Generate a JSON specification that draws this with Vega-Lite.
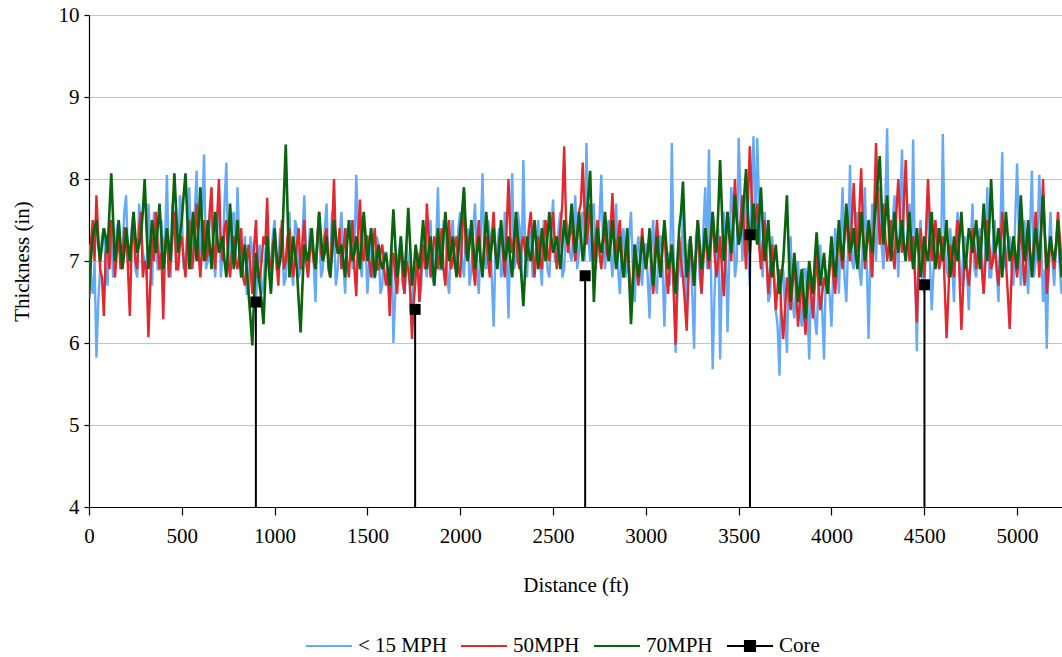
{
  "$schema": "https://vega.github.io/schema/vega-lite/v6.json",
  "width": 973,
  "height": 492,
  "autosize": {"type": "none"},
  "padding": {"left": 89, "top": 15, "right": 0, "bottom": 150},
  "background": "white",
  "config": {
    "font": "Liberation Serif",
    "view": {"stroke": null},
    "axis": {"labelColor": "black", "titleColor": "black", "titleFontWeight": "normal", "labelFontSize": 21, "titleFontSize": 21, "domainColor": "black", "tickColor": "black", "domainWidth": 1.2, "tickWidth": 1.2}
  },
  "datasets": {
    "b": [
{"d":0,"t":7.2},{"d":20,"t":6.6},{"d":40,"t":5.82},{"d":60,"t":6.9},{"d":80,"t":7.4},{"d":100,"t":6.7},{"d":120,"t":7.3},{"d":140,"t":6.9},{"d":160,"t":7.5},{"d":180,"t":7.0},
{"d":200,"t":7.8},{"d":220,"t":6.9},{"d":240,"t":7.6},{"d":260,"t":6.8},{"d":280,"t":7.4},{"d":300,"t":7.0},{"d":320,"t":7.7},{"d":340,"t":6.7},{"d":360,"t":7.3},{"d":380,"t":6.9},
{"d":400,"t":7.1},{"d":420,"t":8.05},{"d":440,"t":6.8},{"d":460,"t":7.5},{"d":480,"t":6.9},{"d":500,"t":7.6},{"d":520,"t":7.0},{"d":540,"t":7.9},{"d":560,"t":6.9},{"d":580,"t":8.1},
{"d":600,"t":7.2},{"d":620,"t":8.3},{"d":640,"t":7.0},{"d":660,"t":7.7},{"d":680,"t":6.8},{"d":700,"t":7.9},{"d":720,"t":7.1},{"d":740,"t":8.2},{"d":760,"t":6.9},{"d":780,"t":7.6},
{"d":800,"t":7.9},{"d":820,"t":6.8},{"d":840,"t":7.3},{"d":860,"t":6.6},{"d":880,"t":7.1},{"d":900,"t":6.5},{"d":920,"t":7.2},{"d":940,"t":6.7},{"d":960,"t":7.4},{"d":980,"t":6.9},
{"d":1000,"t":7.5},{"d":1020,"t":6.9},{"d":1040,"t":7.3},{"d":1060,"t":6.8},{"d":1080,"t":7.6},{"d":1100,"t":6.7},{"d":1120,"t":7.4},{"d":1140,"t":6.9},{"d":1160,"t":7.8},{"d":1180,"t":6.8},
{"d":1200,"t":7.2},{"d":1220,"t":6.5},{"d":1240,"t":7.5},{"d":1260,"t":6.9},{"d":1280,"t":7.7},{"d":1300,"t":7.0},{"d":1320,"t":7.4},{"d":1340,"t":6.9},{"d":1360,"t":7.6},{"d":1380,"t":6.6},
{"d":1400,"t":7.3},{"d":1420,"t":6.9},{"d":1440,"t":8.05},{"d":1460,"t":7.0},{"d":1480,"t":7.5},{"d":1500,"t":6.6},{"d":1520,"t":7.4},{"d":1540,"t":6.8},{"d":1560,"t":7.2},{"d":1580,"t":6.7},
{"d":1600,"t":7.1},{"d":1620,"t":6.5},{"d":1640,"t":6.0},{"d":1660,"t":7.0},{"d":1680,"t":7.3},{"d":1700,"t":6.6},{"d":1720,"t":7.0},{"d":1740,"t":6.2},{"d":1760,"t":6.8},{"d":1780,"t":6.5},
{"d":1800,"t":7.3},{"d":1820,"t":6.8},{"d":1840,"t":7.5},{"d":1860,"t":6.7},{"d":1880,"t":7.9},{"d":1900,"t":6.9},{"d":1920,"t":7.4},{"d":1940,"t":6.6},{"d":1960,"t":7.5},{"d":1980,"t":7.0},
{"d":2000,"t":7.6},{"d":2020,"t":6.8},{"d":2040,"t":7.4},{"d":2060,"t":6.9},{"d":2080,"t":7.7},{"d":2100,"t":6.6},{"d":2120,"t":8.07},{"d":2140,"t":6.9},{"d":2160,"t":7.3},{"d":2180,"t":6.2},
{"d":2200,"t":7.2},{"d":2220,"t":6.8},{"d":2240,"t":7.6},{"d":2260,"t":6.3},{"d":2280,"t":8.07},{"d":2300,"t":7.0},{"d":2320,"t":7.4},{"d":2340,"t":8.23},{"d":2360,"t":6.8},{"d":2380,"t":7.3},
{"d":2400,"t":6.9},{"d":2420,"t":7.5},{"d":2440,"t":6.7},{"d":2460,"t":7.3},{"d":2480,"t":6.8},{"d":2500,"t":7.75},{"d":2520,"t":7.0},{"d":2540,"t":7.6},{"d":2560,"t":6.9},{"d":2580,"t":7.4},
{"d":2600,"t":7.0},{"d":2620,"t":7.8},{"d":2640,"t":7.1},{"d":2660,"t":7.6},{"d":2680,"t":8.44},{"d":2700,"t":7.0},{"d":2720,"t":7.7},{"d":2740,"t":7.2},{"d":2760,"t":8.05},{"d":2780,"t":6.9},
{"d":2800,"t":7.5},{"d":2820,"t":6.8},{"d":2840,"t":7.7},{"d":2860,"t":6.6},{"d":2880,"t":7.4},{"d":2900,"t":6.9},{"d":2920,"t":7.6},{"d":2940,"t":6.5},{"d":2960,"t":7.3},{"d":2980,"t":6.7},
{"d":3000,"t":7.2},{"d":3020,"t":6.3},{"d":3040,"t":7.5},{"d":3060,"t":6.6},{"d":3080,"t":7.3},{"d":3100,"t":6.2},{"d":3120,"t":7.1},{"d":3140,"t":8.44},{"d":3160,"t":5.88},{"d":3180,"t":7.2},
{"d":3200,"t":7.6},{"d":3220,"t":6.4},{"d":3240,"t":7.3},{"d":3260,"t":5.93},{"d":3280,"t":7.5},{"d":3300,"t":6.6},{"d":3320,"t":7.9},{"d":3340,"t":8.36},{"d":3360,"t":5.68},{"d":3380,"t":7.1},
{"d":3400,"t":5.8},{"d":3420,"t":7.6},{"d":3440,"t":6.13},{"d":3460,"t":7.9},{"d":3480,"t":6.8},{"d":3500,"t":8.5},{"d":3520,"t":7.0},{"d":3540,"t":7.8},{"d":3560,"t":6.7},{"d":3580,"t":8.52},
{"d":3600,"t":8.5},{"d":3620,"t":7.0},{"d":3640,"t":7.6},{"d":3660,"t":6.5},{"d":3680,"t":7.3},{"d":3700,"t":6.4},{"d":3720,"t":5.6},{"d":3740,"t":6.9},{"d":3760,"t":5.88},{"d":3780,"t":7.3},
{"d":3800,"t":6.3},{"d":3820,"t":7.0},{"d":3840,"t":6.2},{"d":3860,"t":6.9},{"d":3880,"t":5.8},{"d":3900,"t":6.7},{"d":3920,"t":6.1},{"d":3940,"t":7.2},{"d":3960,"t":5.8},{"d":3980,"t":6.8},
{"d":4000,"t":6.2},{"d":4020,"t":7.4},{"d":4040,"t":6.6},{"d":4060,"t":7.9},{"d":4080,"t":6.5},{"d":4100,"t":8.17},{"d":4120,"t":6.9},{"d":4140,"t":7.6},{"d":4160,"t":6.7},{"d":4180,"t":7.9},
{"d":4200,"t":6.05},{"d":4220,"t":7.7},{"d":4240,"t":7.0},{"d":4260,"t":7.9},{"d":4280,"t":6.9},{"d":4300,"t":8.62},{"d":4320,"t":7.2},{"d":4340,"t":7.8},{"d":4360,"t":6.8},{"d":4380,"t":8.36},
{"d":4400,"t":7.0},{"d":4420,"t":7.7},{"d":4440,"t":8.48},{"d":4460,"t":5.9},{"d":4480,"t":7.5},{"d":4500,"t":6.6},{"d":4520,"t":7.8},{"d":4540,"t":6.4},{"d":4560,"t":7.2},{"d":4580,"t":6.9},
{"d":4600,"t":8.55},{"d":4620,"t":6.9},{"d":4640,"t":7.4},{"d":4660,"t":6.5},{"d":4680,"t":7.6},{"d":4700,"t":6.7},{"d":4720,"t":7.3},{"d":4740,"t":6.4},{"d":4760,"t":7.7},{"d":4780,"t":6.8},
{"d":4800,"t":7.4},{"d":4820,"t":6.6},{"d":4840,"t":7.9},{"d":4860,"t":6.8},{"d":4880,"t":7.5},{"d":4900,"t":6.5},{"d":4920,"t":8.33},{"d":4940,"t":6.9},{"d":4960,"t":7.3},{"d":4980,"t":6.7},
{"d":5000,"t":8.19},{"d":5020,"t":6.7},{"d":5040,"t":7.5},{"d":5060,"t":6.6},{"d":5080,"t":8.1},{"d":5100,"t":7.0},{"d":5120,"t":8.05},{"d":5140,"t":6.5},{"d":5160,"t":5.93},{"d":5180,"t":7.6},
{"d":5200,"t":6.7},{"d":5220,"t":7.4},{"d":5240,"t":6.6},
{"d":10,"t":6.8},{"d":30,"t":7.0},{"d":50,"t":6.5},{"d":70,"t":7.3},{"d":90,"t":6.9},{"d":110,"t":7.5},{"d":130,"t":6.8},{"d":150,"t":7.4},{"d":170,"t":7.0},{"d":190,"t":7.6},
{"d":210,"t":7.0},{"d":230,"t":7.4},{"d":250,"t":6.9},{"d":270,"t":7.7},{"d":290,"t":7.1},{"d":310,"t":6.8},{"d":330,"t":7.3},{"d":350,"t":7.6},{"d":370,"t":6.9},{"d":390,"t":7.5},
{"d":410,"t":7.3},{"d":430,"t":6.9},{"d":450,"t":7.7},{"d":470,"t":7.0},{"d":490,"t":7.8},{"d":510,"t":6.9},{"d":530,"t":7.4},{"d":550,"t":7.1},{"d":570,"t":7.6},{"d":590,"t":7.0},
{"d":610,"t":7.6},{"d":630,"t":6.9},{"d":650,"t":7.5},{"d":670,"t":7.1},{"d":690,"t":7.4},{"d":710,"t":6.8},{"d":730,"t":7.7},{"d":750,"t":7.0},{"d":770,"t":7.5},{"d":790,"t":7.0},
{"d":810,"t":7.2},{"d":830,"t":7.0},{"d":850,"t":6.6},{"d":870,"t":7.3},{"d":890,"t":6.7},{"d":910,"t":7.0},{"d":930,"t":6.6},{"d":950,"t":7.1},{"d":970,"t":6.8},{"d":990,"t":7.3},
{"d":1010,"t":6.9},{"d":1030,"t":7.4},{"d":1050,"t":6.7},{"d":1070,"t":7.2},{"d":1090,"t":6.9},{"d":1110,"t":7.5},{"d":1130,"t":6.8},{"d":1150,"t":7.3},{"d":1170,"t":7.0},{"d":1190,"t":7.4},
{"d":1210,"t":7.0},{"d":1230,"t":7.3},{"d":1250,"t":6.8},{"d":1270,"t":7.4},{"d":1290,"t":6.9},{"d":1310,"t":7.6},{"d":1330,"t":6.7},{"d":1350,"t":7.3},{"d":1370,"t":7.0},{"d":1390,"t":7.4},
{"d":1410,"t":7.5},{"d":1430,"t":7.1},{"d":1450,"t":7.3},{"d":1470,"t":6.8},{"d":1490,"t":7.2},{"d":1510,"t":7.0},{"d":1530,"t":6.8},{"d":1550,"t":7.3},{"d":1570,"t":6.6},{"d":1590,"t":7.1},
{"d":1610,"t":6.8},{"d":1630,"t":7.2},{"d":1650,"t":6.6},{"d":1670,"t":7.1},{"d":1690,"t":6.7},{"d":1710,"t":7.2},{"d":1730,"t":6.6},{"d":1750,"t":6.9},{"d":1770,"t":7.0},{"d":1790,"t":6.7},
{"d":1810,"t":7.0},{"d":1830,"t":7.3},{"d":1850,"t":6.8},{"d":1870,"t":7.2},{"d":1890,"t":6.9},{"d":1910,"t":7.5},{"d":1930,"t":6.8},{"d":1950,"t":7.3},{"d":1970,"t":6.9},{"d":1990,"t":7.4},
{"d":2010,"t":7.0},{"d":2030,"t":7.3},{"d":2050,"t":6.7},{"d":2070,"t":7.4},{"d":2090,"t":6.9},{"d":2110,"t":7.3},{"d":2130,"t":7.0},{"d":2150,"t":7.5},{"d":2170,"t":6.8},{"d":2190,"t":7.1},
{"d":2210,"t":7.4},{"d":2230,"t":6.9},{"d":2250,"t":7.1},{"d":2270,"t":7.4},{"d":2290,"t":6.9},{"d":2310,"t":7.6},{"d":2330,"t":6.8},{"d":2350,"t":7.1},{"d":2370,"t":7.4},{"d":2390,"t":6.8},
{"d":2410,"t":7.2},{"d":2430,"t":7.0},{"d":2450,"t":7.5},{"d":2470,"t":6.9},{"d":2490,"t":7.3},{"d":2510,"t":7.0},{"d":2530,"t":7.4},{"d":2550,"t":6.8},{"d":2570,"t":7.5},{"d":2590,"t":7.1},
{"d":2610,"t":7.4},{"d":2630,"t":6.9},{"d":2650,"t":7.5},{"d":2670,"t":7.0},{"d":2690,"t":7.3},{"d":2710,"t":7.6},{"d":2730,"t":6.9},{"d":2750,"t":7.5},{"d":2770,"t":7.2},{"d":2790,"t":7.3},
{"d":2810,"t":7.1},{"d":2830,"t":7.3},{"d":2850,"t":6.9},{"d":2870,"t":7.2},{"d":2890,"t":6.8},{"d":2910,"t":7.3},{"d":2930,"t":6.9},{"d":2950,"t":7.1},{"d":2970,"t":6.9},{"d":2990,"t":7.2},
{"d":3010,"t":6.8},{"d":3030,"t":7.2},{"d":3050,"t":6.7},{"d":3070,"t":7.3},{"d":3090,"t":6.9},{"d":3110,"t":7.0},{"d":3130,"t":6.7},{"d":3150,"t":7.0},{"d":3170,"t":6.6},{"d":3190,"t":6.8},
{"d":3210,"t":6.9},{"d":3230,"t":7.2},{"d":3250,"t":6.6},{"d":3270,"t":7.3},{"d":3290,"t":6.8},{"d":3310,"t":7.4},{"d":3330,"t":6.9},{"d":3350,"t":7.0},{"d":3370,"t":6.6},{"d":3390,"t":7.4},
{"d":3410,"t":6.9},{"d":3430,"t":7.3},{"d":3450,"t":7.1},{"d":3470,"t":7.6},{"d":3490,"t":7.0},{"d":3510,"t":7.8},{"d":3530,"t":7.4},{"d":3550,"t":7.2},{"d":3570,"t":7.9},{"d":3590,"t":7.3},
{"d":3610,"t":7.7},{"d":3630,"t":6.8},{"d":3650,"t":7.2},{"d":3670,"t":6.6},{"d":3690,"t":6.9},{"d":3710,"t":6.2},{"d":3730,"t":6.8},{"d":3750,"t":6.4},{"d":3770,"t":6.9},{"d":3790,"t":6.5},
{"d":3810,"t":6.7},{"d":3830,"t":6.4},{"d":3850,"t":6.9},{"d":3870,"t":6.5},{"d":3890,"t":6.8},{"d":3910,"t":6.3},{"d":3930,"t":6.7},{"d":3950,"t":6.4},{"d":3970,"t":6.9},{"d":3990,"t":6.6},
{"d":4010,"t":6.9},{"d":4030,"t":7.1},{"d":4050,"t":7.3},{"d":4070,"t":6.8},{"d":4090,"t":7.2},{"d":4110,"t":7.0},{"d":4130,"t":7.4},{"d":4150,"t":6.9},{"d":4170,"t":7.3},{"d":4190,"t":7.0},
{"d":4210,"t":7.1},{"d":4230,"t":7.4},{"d":4250,"t":7.6},{"d":4270,"t":7.2},{"d":4290,"t":7.7},{"d":4310,"t":7.1},{"d":4330,"t":7.5},{"d":4350,"t":7.3},{"d":4370,"t":7.6},{"d":4390,"t":7.2},
{"d":4410,"t":7.3},{"d":4430,"t":7.0},{"d":4450,"t":6.9},{"d":4470,"t":7.2},{"d":4490,"t":6.8},{"d":4510,"t":7.3},{"d":4530,"t":7.0},{"d":4550,"t":6.9},{"d":4570,"t":7.4},{"d":4590,"t":7.0},
{"d":4610,"t":7.2},{"d":4630,"t":6.8},{"d":4650,"t":7.0},{"d":4670,"t":7.3},{"d":4690,"t":6.9},{"d":4710,"t":7.1},{"d":4730,"t":6.9},{"d":4750,"t":7.2},{"d":4770,"t":6.9},{"d":4790,"t":7.3},
{"d":4810,"t":7.0},{"d":4830,"t":7.3},{"d":4850,"t":6.8},{"d":4870,"t":7.2},{"d":4890,"t":6.9},{"d":4910,"t":7.4},{"d":4930,"t":7.0},{"d":4950,"t":7.2},{"d":4970,"t":6.9},{"d":4990,"t":7.5},
{"d":5010,"t":7.3},{"d":5030,"t":7.0},{"d":5050,"t":6.9},{"d":5070,"t":7.4},{"d":5090,"t":6.8},{"d":5110,"t":7.3},{"d":5130,"t":7.2},{"d":5150,"t":6.9},{"d":5170,"t":7.1},{"d":5190,"t":7.0},
{"d":5210,"t":7.2},{"d":5230,"t":6.9}
    ],
    "r": [
{"d":0,"t":6.55},{"d":20,"t":7.5},{"d":40,"t":7.8},{"d":60,"t":6.9},{"d":80,"t":6.33},{"d":100,"t":7.2},{"d":120,"t":7.5},{"d":140,"t":6.8},{"d":160,"t":7.3},{"d":180,"t":7.0},
{"d":200,"t":7.4},{"d":220,"t":6.33},{"d":240,"t":7.5},{"d":260,"t":6.9},{"d":280,"t":7.6},{"d":300,"t":7.0},{"d":320,"t":6.07},{"d":340,"t":7.3},{"d":360,"t":7.6},{"d":380,"t":6.9},
{"d":400,"t":6.29},{"d":420,"t":7.4},{"d":440,"t":7.0},{"d":460,"t":7.6},{"d":480,"t":6.9},{"d":500,"t":7.3},{"d":520,"t":6.8},{"d":540,"t":7.5},{"d":560,"t":7.0},{"d":580,"t":7.7},
{"d":600,"t":6.8},{"d":620,"t":7.5},{"d":640,"t":7.1},{"d":660,"t":7.9},{"d":680,"t":6.9},{"d":700,"t":8.0},{"d":720,"t":7.0},{"d":740,"t":7.5},{"d":760,"t":6.8},{"d":780,"t":7.3},
{"d":800,"t":6.9},{"d":820,"t":7.4},{"d":840,"t":6.7},{"d":860,"t":7.2},{"d":880,"t":6.6},{"d":900,"t":7.5},{"d":920,"t":6.8},{"d":940,"t":7.3},{"d":960,"t":7.77},{"d":980,"t":6.9},
{"d":1000,"t":7.3},{"d":1020,"t":6.7},{"d":1040,"t":7.5},{"d":1060,"t":7.0},{"d":1080,"t":7.4},{"d":1100,"t":6.8},{"d":1120,"t":7.2},{"d":1140,"t":6.9},{"d":1160,"t":7.5},{"d":1180,"t":6.8},
{"d":1200,"t":7.3},{"d":1220,"t":6.9},{"d":1240,"t":7.6},{"d":1260,"t":7.0},{"d":1280,"t":7.4},{"d":1300,"t":6.8},{"d":1320,"t":8.0},{"d":1340,"t":7.1},{"d":1360,"t":6.9},{"d":1380,"t":7.4},
{"d":1400,"t":6.8},{"d":1420,"t":7.5},{"d":1440,"t":6.57},{"d":1460,"t":7.75},{"d":1480,"t":7.0},{"d":1500,"t":7.3},{"d":1520,"t":6.8},{"d":1540,"t":7.4},{"d":1560,"t":6.9},{"d":1580,"t":7.2},
{"d":1600,"t":6.7},{"d":1620,"t":6.33},{"d":1640,"t":7.1},{"d":1660,"t":6.6},{"d":1680,"t":7.2},{"d":1700,"t":6.6},{"d":1720,"t":6.9},{"d":1740,"t":6.05},{"d":1760,"t":6.8},{"d":1780,"t":6.5},
{"d":1800,"t":7.2},{"d":1820,"t":7.7},{"d":1840,"t":6.8},{"d":1860,"t":7.3},{"d":1880,"t":6.9},{"d":1900,"t":7.4},{"d":1920,"t":6.7},{"d":1940,"t":7.5},{"d":1960,"t":7.0},{"d":1980,"t":7.3},
{"d":2000,"t":6.8},{"d":2020,"t":7.85},{"d":2040,"t":7.0},{"d":2060,"t":7.4},{"d":2080,"t":6.7},{"d":2100,"t":7.5},{"d":2120,"t":6.9},{"d":2140,"t":7.3},{"d":2160,"t":6.8},{"d":2180,"t":7.6},
{"d":2200,"t":7.0},{"d":2220,"t":7.4},{"d":2240,"t":6.8},{"d":2260,"t":8.0},{"d":2280,"t":7.1},{"d":2300,"t":7.5},{"d":2320,"t":6.9},{"d":2340,"t":7.3},{"d":2360,"t":7.0},{"d":2380,"t":7.6},
{"d":2400,"t":6.8},{"d":2420,"t":7.3},{"d":2440,"t":6.9},{"d":2460,"t":7.5},{"d":2480,"t":7.0},{"d":2500,"t":7.6},{"d":2520,"t":6.9},{"d":2540,"t":7.4},{"d":2560,"t":8.4},{"d":2580,"t":7.1},
{"d":2600,"t":7.5},{"d":2620,"t":7.0},{"d":2640,"t":7.6},{"d":2660,"t":8.2},{"d":2680,"t":7.2},{"d":2700,"t":7.7},{"d":2720,"t":7.0},{"d":2740,"t":7.5},{"d":2760,"t":6.9},{"d":2780,"t":7.4},
{"d":2800,"t":7.0},{"d":2820,"t":7.83},{"d":2840,"t":7.1},{"d":2860,"t":7.5},{"d":2880,"t":6.8},{"d":2900,"t":7.3},{"d":2920,"t":6.43},{"d":2940,"t":7.2},{"d":2960,"t":6.7},{"d":2980,"t":7.4},
{"d":3000,"t":6.9},{"d":3020,"t":7.3},{"d":3040,"t":6.6},{"d":3060,"t":7.5},{"d":3080,"t":6.8},{"d":3100,"t":7.4},{"d":3120,"t":6.6},{"d":3140,"t":7.2},{"d":3160,"t":5.98},{"d":3180,"t":7.3},
{"d":3200,"t":6.8},{"d":3220,"t":6.15},{"d":3240,"t":7.3},{"d":3260,"t":6.7},{"d":3280,"t":7.5},{"d":3300,"t":6.6},{"d":3320,"t":7.4},{"d":3340,"t":6.9},{"d":3360,"t":7.6},{"d":3380,"t":6.8},
{"d":3400,"t":7.3},{"d":3420,"t":6.57},{"d":3440,"t":7.6},{"d":3460,"t":7.0},{"d":3480,"t":8.0},{"d":3500,"t":7.2},{"d":3520,"t":7.8},{"d":3540,"t":6.9},{"d":3560,"t":8.4},{"d":3580,"t":7.3},
{"d":3600,"t":7.7},{"d":3620,"t":6.9},{"d":3640,"t":7.5},{"d":3660,"t":6.6},{"d":3680,"t":7.2},{"d":3700,"t":6.4},{"d":3720,"t":6.9},{"d":3740,"t":6.05},{"d":3760,"t":6.8},{"d":3780,"t":6.4},
{"d":3800,"t":7.0},{"d":3820,"t":6.2},{"d":3840,"t":6.8},{"d":3860,"t":6.1},{"d":3880,"t":6.9},{"d":3900,"t":6.3},{"d":3920,"t":7.1},{"d":3940,"t":6.4},{"d":3960,"t":6.8},{"d":3980,"t":6.6},
{"d":4000,"t":7.1},{"d":4020,"t":6.6},{"d":4040,"t":7.4},{"d":4060,"t":6.9},{"d":4080,"t":7.6},{"d":4100,"t":7.0},{"d":4120,"t":7.95},{"d":4140,"t":7.1},{"d":4160,"t":8.13},{"d":4180,"t":6.9},
{"d":4200,"t":7.4},{"d":4220,"t":6.8},{"d":4240,"t":8.44},{"d":4260,"t":7.2},{"d":4280,"t":7.7},{"d":4300,"t":7.0},{"d":4320,"t":7.5},{"d":4340,"t":6.9},{"d":4360,"t":8.0},{"d":4380,"t":7.1},
{"d":4400,"t":8.23},{"d":4420,"t":7.0},{"d":4440,"t":7.3},{"d":4460,"t":6.25},{"d":4480,"t":7.4},{"d":4500,"t":6.8},{"d":4520,"t":8.0},{"d":4540,"t":7.0},{"d":4560,"t":7.5},{"d":4580,"t":6.9},
{"d":4600,"t":7.3},{"d":4620,"t":6.06},{"d":4640,"t":7.2},{"d":4660,"t":6.8},{"d":4680,"t":7.5},{"d":4700,"t":6.16},{"d":4720,"t":7.1},{"d":4740,"t":6.7},{"d":4760,"t":7.4},{"d":4780,"t":6.9},
{"d":4800,"t":7.3},{"d":4820,"t":6.6},{"d":4840,"t":7.5},{"d":4860,"t":6.9},{"d":4880,"t":7.2},{"d":4900,"t":6.7},{"d":4920,"t":7.6},{"d":4940,"t":7.0},{"d":4960,"t":6.17},{"d":4980,"t":7.3},
{"d":5000,"t":6.8},{"d":5020,"t":7.5},{"d":5040,"t":6.7},{"d":5060,"t":7.3},{"d":5080,"t":6.9},{"d":5100,"t":7.6},{"d":5120,"t":6.8},{"d":5140,"t":8.0},{"d":5160,"t":6.6},{"d":5180,"t":7.3},
{"d":5200,"t":6.9},{"d":5220,"t":7.6},{"d":5240,"t":7.0},
{"d":10,"t":7.2},{"d":30,"t":7.0},{"d":50,"t":7.3},{"d":70,"t":6.8},{"d":90,"t":7.1},{"d":110,"t":6.9},{"d":130,"t":7.4},{"d":150,"t":7.1},{"d":170,"t":6.9},{"d":190,"t":7.4},
{"d":210,"t":6.9},{"d":230,"t":7.2},{"d":250,"t":7.0},{"d":270,"t":7.4},{"d":290,"t":6.8},{"d":310,"t":6.9},{"d":330,"t":6.7},{"d":350,"t":7.0},{"d":370,"t":7.2},{"d":390,"t":7.1},
{"d":410,"t":7.2},{"d":430,"t":6.8},{"d":450,"t":7.3},{"d":470,"t":6.9},{"d":490,"t":7.2},{"d":510,"t":7.0},{"d":530,"t":7.3},{"d":550,"t":6.9},{"d":570,"t":7.4},{"d":590,"t":7.1},
{"d":610,"t":7.2},{"d":630,"t":7.0},{"d":650,"t":7.6},{"d":670,"t":7.2},{"d":690,"t":7.5},{"d":710,"t":7.2},{"d":730,"t":7.4},{"d":750,"t":7.0},{"d":770,"t":7.1},{"d":790,"t":7.0},
{"d":810,"t":7.1},{"d":830,"t":6.8},{"d":850,"t":7.0},{"d":870,"t":6.9},{"d":890,"t":7.2},{"d":910,"t":6.8},{"d":930,"t":7.0},{"d":950,"t":7.2},{"d":970,"t":7.0},{"d":990,"t":7.2},
{"d":1010,"t":7.0},{"d":1030,"t":7.2},{"d":1050,"t":6.9},{"d":1070,"t":7.3},{"d":1090,"t":7.1},{"d":1110,"t":7.0},{"d":1130,"t":7.4},{"d":1150,"t":7.2},{"d":1170,"t":7.0},{"d":1190,"t":7.1},
{"d":1210,"t":7.0},{"d":1230,"t":7.3},{"d":1250,"t":7.1},{"d":1270,"t":7.3},{"d":1290,"t":6.9},{"d":1310,"t":7.4},{"d":1330,"t":7.2},{"d":1350,"t":7.4},{"d":1370,"t":7.1},{"d":1390,"t":7.0},
{"d":1410,"t":7.2},{"d":1430,"t":6.9},{"d":1450,"t":7.3},{"d":1470,"t":7.1},{"d":1490,"t":7.3},{"d":1510,"t":7.0},{"d":1530,"t":7.2},{"d":1550,"t":6.9},{"d":1570,"t":7.1},{"d":1590,"t":6.9},
{"d":1610,"t":6.9},{"d":1630,"t":7.0},{"d":1650,"t":6.8},{"d":1670,"t":7.0},{"d":1690,"t":6.8},{"d":1710,"t":7.0},{"d":1730,"t":6.7},{"d":1750,"t":6.5},{"d":1770,"t":7.1},{"d":1790,"t":6.9},
{"d":1810,"t":6.9},{"d":1830,"t":7.3},{"d":1850,"t":7.0},{"d":1870,"t":7.2},{"d":1890,"t":7.1},{"d":1910,"t":6.9},{"d":1930,"t":7.2},{"d":1950,"t":6.9},{"d":1970,"t":7.2},{"d":1990,"t":6.9},
{"d":2010,"t":7.3},{"d":2030,"t":7.1},{"d":2050,"t":7.3},{"d":2070,"t":6.9},{"d":2090,"t":7.2},{"d":2110,"t":7.0},{"d":2130,"t":7.2},{"d":2150,"t":7.0},{"d":2170,"t":7.3},{"d":2190,"t":7.1},
{"d":2210,"t":7.2},{"d":2230,"t":7.1},{"d":2250,"t":7.4},{"d":2270,"t":7.3},{"d":2290,"t":7.3},{"d":2310,"t":7.0},{"d":2330,"t":7.2},{"d":2350,"t":7.1},{"d":2370,"t":7.4},{"d":2390,"t":7.2},
{"d":2410,"t":7.1},{"d":2430,"t":7.0},{"d":2450,"t":7.3},{"d":2470,"t":7.1},{"d":2490,"t":7.4},{"d":2510,"t":7.2},{"d":2530,"t":7.1},{"d":2550,"t":7.7},{"d":2570,"t":7.5},{"d":2590,"t":7.3},
{"d":2610,"t":7.2},{"d":2630,"t":7.3},{"d":2650,"t":7.7},{"d":2670,"t":7.6},{"d":2690,"t":7.4},{"d":2710,"t":7.3},{"d":2730,"t":7.3},{"d":2750,"t":7.1},{"d":2770,"t":7.2},{"d":2790,"t":7.1},
{"d":2810,"t":7.4},{"d":2830,"t":7.3},{"d":2850,"t":7.3},{"d":2870,"t":7.1},{"d":2890,"t":7.0},{"d":2910,"t":6.9},{"d":2930,"t":6.8},{"d":2950,"t":6.9},{"d":2970,"t":7.0},{"d":2990,"t":7.1},
{"d":3010,"t":7.1},{"d":3030,"t":6.9},{"d":3050,"t":7.1},{"d":3070,"t":7.1},{"d":3090,"t":7.2},{"d":3110,"t":6.9},{"d":3130,"t":7.0},{"d":3150,"t":6.6},{"d":3170,"t":6.8},{"d":3190,"t":7.0},
{"d":3210,"t":6.5},{"d":3230,"t":6.8},{"d":3250,"t":7.0},{"d":3270,"t":7.1},{"d":3290,"t":7.0},{"d":3310,"t":7.0},{"d":3330,"t":7.1},{"d":3350,"t":7.2},{"d":3370,"t":7.1},{"d":3390,"t":7.0},
{"d":3410,"t":6.9},{"d":3430,"t":7.1},{"d":3450,"t":7.3},{"d":3470,"t":7.5},{"d":3490,"t":7.5},{"d":3510,"t":7.5},{"d":3530,"t":7.3},{"d":3550,"t":7.7},{"d":3570,"t":7.8},{"d":3590,"t":7.5},
{"d":3610,"t":7.2},{"d":3630,"t":7.2},{"d":3650,"t":7.0},{"d":3670,"t":6.9},{"d":3690,"t":6.8},{"d":3710,"t":6.7},{"d":3730,"t":6.4},{"d":3750,"t":6.4},{"d":3770,"t":6.6},{"d":3790,"t":6.7},
{"d":3810,"t":6.6},{"d":3830,"t":6.5},{"d":3850,"t":6.4},{"d":3870,"t":6.5},{"d":3890,"t":6.6},{"d":3910,"t":6.7},{"d":3930,"t":6.7},{"d":3950,"t":6.6},{"d":3970,"t":6.7},{"d":3990,"t":6.9},
{"d":4010,"t":6.8},{"d":4030,"t":7.0},{"d":4050,"t":7.1},{"d":4070,"t":7.3},{"d":4090,"t":7.2},{"d":4110,"t":7.5},{"d":4130,"t":7.4},{"d":4150,"t":7.6},{"d":4170,"t":7.4},{"d":4190,"t":7.2},
{"d":4210,"t":7.1},{"d":4230,"t":7.6},{"d":4250,"t":7.8},{"d":4270,"t":7.4},{"d":4290,"t":7.3},{"d":4310,"t":7.2},{"d":4330,"t":7.1},{"d":4350,"t":7.6},{"d":4370,"t":7.5},{"d":4390,"t":7.7},
{"d":4410,"t":7.5},{"d":4430,"t":7.1},{"d":4450,"t":6.8},{"d":4470,"t":6.9},{"d":4490,"t":7.1},{"d":4510,"t":7.4},{"d":4530,"t":7.5},{"d":4550,"t":7.2},{"d":4570,"t":7.2},{"d":4590,"t":7.1},
{"d":4610,"t":6.7},{"d":4630,"t":6.6},{"d":4650,"t":7.0},{"d":4670,"t":7.2},{"d":4690,"t":6.8},{"d":4710,"t":6.7},{"d":4730,"t":6.9},{"d":4750,"t":7.0},{"d":4770,"t":7.2},{"d":4790,"t":7.1},
{"d":4810,"t":6.9},{"d":4830,"t":7.0},{"d":4850,"t":7.2},{"d":4870,"t":7.0},{"d":4890,"t":6.9},{"d":4910,"t":7.1},{"d":4930,"t":7.3},{"d":4950,"t":6.6},{"d":4970,"t":6.8},{"d":4990,"t":7.0},
{"d":5010,"t":7.1},{"d":5030,"t":7.1},{"d":5050,"t":7.0},{"d":5070,"t":7.1},{"d":5090,"t":7.2},{"d":5110,"t":7.2},{"d":5130,"t":7.4},{"d":5150,"t":7.3},{"d":5170,"t":6.9},{"d":5190,"t":7.1},
{"d":5210,"t":7.2},{"d":5230,"t":7.3}
    ],
    "g": [
{"d":0,"t":6.55},{"d":20,"t":7.3},{"d":40,"t":7.5},{"d":60,"t":7.0},{"d":80,"t":7.4},{"d":100,"t":7.1},{"d":120,"t":8.07},{"d":140,"t":7.0},{"d":160,"t":7.5},{"d":180,"t":6.9},
{"d":200,"t":7.4},{"d":220,"t":7.0},{"d":240,"t":7.6},{"d":260,"t":7.1},{"d":280,"t":7.3},{"d":300,"t":8.0},{"d":320,"t":6.9},{"d":340,"t":7.5},{"d":360,"t":7.1},{"d":380,"t":7.7},
{"d":400,"t":6.9},{"d":420,"t":7.4},{"d":440,"t":7.0},{"d":460,"t":8.07},{"d":480,"t":7.1},{"d":500,"t":7.5},{"d":520,"t":8.07},{"d":540,"t":6.9},{"d":560,"t":7.6},{"d":580,"t":7.0},
{"d":600,"t":7.9},{"d":620,"t":7.0},{"d":640,"t":7.5},{"d":660,"t":6.9},{"d":680,"t":7.6},{"d":700,"t":7.1},{"d":720,"t":7.3},{"d":740,"t":6.8},{"d":760,"t":7.7},{"d":780,"t":6.9},
{"d":800,"t":7.5},{"d":820,"t":6.8},{"d":840,"t":7.2},{"d":860,"t":6.6},{"d":880,"t":5.97},{"d":900,"t":7.1},{"d":920,"t":6.7},{"d":940,"t":6.23},{"d":960,"t":7.3},{"d":980,"t":6.6},
{"d":1000,"t":7.4},{"d":1020,"t":6.9},{"d":1040,"t":7.2},{"d":1060,"t":8.42},{"d":1080,"t":6.8},{"d":1100,"t":7.3},{"d":1120,"t":6.9},{"d":1140,"t":6.13},{"d":1160,"t":7.2},{"d":1180,"t":7.0},
{"d":1200,"t":7.4},{"d":1220,"t":6.9},{"d":1240,"t":7.6},{"d":1260,"t":7.0},{"d":1280,"t":7.3},{"d":1300,"t":6.8},{"d":1320,"t":7.5},{"d":1340,"t":7.1},{"d":1360,"t":7.2},{"d":1380,"t":6.8},
{"d":1400,"t":7.5},{"d":1420,"t":7.0},{"d":1440,"t":7.3},{"d":1460,"t":6.9},{"d":1480,"t":7.6},{"d":1500,"t":7.0},{"d":1520,"t":7.4},{"d":1540,"t":6.8},{"d":1560,"t":7.2},{"d":1580,"t":6.9},
{"d":1600,"t":7.1},{"d":1620,"t":6.7},{"d":1640,"t":7.63},{"d":1660,"t":6.8},{"d":1680,"t":7.3},{"d":1700,"t":6.8},{"d":1720,"t":7.65},{"d":1740,"t":6.7},{"d":1760,"t":7.2},{"d":1780,"t":6.9},
{"d":1800,"t":7.5},{"d":1820,"t":6.9},{"d":1840,"t":7.3},{"d":1860,"t":6.7},{"d":1880,"t":7.4},{"d":1900,"t":6.9},{"d":1920,"t":7.6},{"d":1940,"t":7.0},{"d":1960,"t":7.3},{"d":1980,"t":6.8},
{"d":2000,"t":7.4},{"d":2020,"t":7.9},{"d":2040,"t":7.0},{"d":2060,"t":7.5},{"d":2080,"t":6.9},{"d":2100,"t":7.3},{"d":2120,"t":6.8},{"d":2140,"t":7.6},{"d":2160,"t":7.0},{"d":2180,"t":7.4},
{"d":2200,"t":6.9},{"d":2220,"t":7.5},{"d":2240,"t":7.0},{"d":2260,"t":7.3},{"d":2280,"t":6.8},{"d":2300,"t":7.6},{"d":2320,"t":7.1},{"d":2340,"t":6.45},{"d":2360,"t":7.3},{"d":2380,"t":7.0},
{"d":2400,"t":7.5},{"d":2420,"t":6.9},{"d":2440,"t":7.4},{"d":2460,"t":7.0},{"d":2480,"t":7.6},{"d":2500,"t":7.1},{"d":2520,"t":7.3},{"d":2540,"t":6.9},{"d":2560,"t":7.5},{"d":2580,"t":7.2},
{"d":2600,"t":7.7},{"d":2620,"t":7.1},{"d":2640,"t":7.6},{"d":2660,"t":7.0},{"d":2680,"t":7.5},{"d":2700,"t":8.1},{"d":2720,"t":6.5},{"d":2740,"t":7.4},{"d":2760,"t":7.1},{"d":2780,"t":7.6},
{"d":2800,"t":7.0},{"d":2820,"t":7.5},{"d":2840,"t":6.9},{"d":2860,"t":7.3},{"d":2880,"t":6.8},{"d":2900,"t":7.4},{"d":2920,"t":6.23},{"d":2940,"t":7.2},{"d":2960,"t":6.8},{"d":2980,"t":7.3},
{"d":3000,"t":6.9},{"d":3020,"t":7.4},{"d":3040,"t":6.7},{"d":3060,"t":7.3},{"d":3080,"t":6.8},{"d":3100,"t":7.5},{"d":3120,"t":6.9},{"d":3140,"t":7.2},{"d":3160,"t":6.6},{"d":3180,"t":7.4},
{"d":3200,"t":7.97},{"d":3220,"t":6.8},{"d":3240,"t":7.3},{"d":3260,"t":6.7},{"d":3280,"t":7.5},{"d":3300,"t":6.9},{"d":3320,"t":7.4},{"d":3340,"t":7.0},{"d":3360,"t":7.6},{"d":3380,"t":7.1},
{"d":3400,"t":8.23},{"d":3420,"t":7.0},{"d":3440,"t":7.6},{"d":3460,"t":7.1},{"d":3480,"t":7.8},{"d":3500,"t":7.2},{"d":3520,"t":7.5},{"d":3540,"t":8.12},{"d":3560,"t":7.1},{"d":3580,"t":7.7},
{"d":3600,"t":7.2},{"d":3620,"t":7.9},{"d":3640,"t":7.0},{"d":3660,"t":7.5},{"d":3680,"t":6.8},{"d":3700,"t":7.2},{"d":3720,"t":6.6},{"d":3740,"t":7.0},{"d":3760,"t":7.8},{"d":3780,"t":6.5},
{"d":3800,"t":7.1},{"d":3820,"t":6.5},{"d":3840,"t":6.9},{"d":3860,"t":6.3},{"d":3880,"t":7.0},{"d":3900,"t":6.6},{"d":3920,"t":7.35},{"d":3940,"t":6.7},{"d":3960,"t":7.1},{"d":3980,"t":6.6},
{"d":4000,"t":7.3},{"d":4020,"t":6.8},{"d":4040,"t":7.5},{"d":4060,"t":7.0},{"d":4080,"t":7.7},{"d":4100,"t":7.1},{"d":4120,"t":7.4},{"d":4140,"t":6.9},{"d":4160,"t":7.6},{"d":4180,"t":7.0},
{"d":4200,"t":7.5},{"d":4220,"t":7.1},{"d":4240,"t":7.7},{"d":4260,"t":8.28},{"d":4280,"t":7.2},{"d":4300,"t":7.8},{"d":4320,"t":7.0},{"d":4340,"t":7.6},{"d":4360,"t":7.1},{"d":4380,"t":7.5},
{"d":4400,"t":7.0},{"d":4420,"t":7.6},{"d":4440,"t":6.9},{"d":4460,"t":7.4},{"d":4480,"t":6.8},{"d":4500,"t":7.3},{"d":4520,"t":7.0},{"d":4540,"t":7.6},{"d":4560,"t":6.9},{"d":4580,"t":7.4},
{"d":4600,"t":7.0},{"d":4620,"t":7.5},{"d":4640,"t":6.8},{"d":4660,"t":7.3},{"d":4680,"t":7.0},{"d":4700,"t":7.6},{"d":4720,"t":6.9},{"d":4740,"t":7.4},{"d":4760,"t":7.1},{"d":4780,"t":7.5},
{"d":4800,"t":6.9},{"d":4820,"t":7.7},{"d":4840,"t":7.0},{"d":4860,"t":8.0},{"d":4880,"t":7.1},{"d":4900,"t":7.4},{"d":4920,"t":6.8},{"d":4940,"t":7.6},{"d":4960,"t":7.0},{"d":4980,"t":7.3},
{"d":5000,"t":6.9},{"d":5020,"t":7.8},{"d":5040,"t":7.0},{"d":5060,"t":7.5},{"d":5080,"t":6.8},{"d":5100,"t":7.4},{"d":5120,"t":7.0},{"d":5140,"t":7.8},{"d":5160,"t":6.9},{"d":5180,"t":7.3},
{"d":5200,"t":7.0},{"d":5220,"t":7.5},{"d":5240,"t":6.8},
{"d":10,"t":7.0},{"d":30,"t":7.4},{"d":50,"t":7.2},{"d":70,"t":7.2},{"d":90,"t":7.3},{"d":110,"t":7.6},{"d":130,"t":7.5},{"d":150,"t":7.2},{"d":170,"t":7.2},{"d":190,"t":7.1},
{"d":210,"t":7.2},{"d":230,"t":7.3},{"d":250,"t":7.3},{"d":270,"t":7.2},{"d":290,"t":7.6},{"d":310,"t":7.4},{"d":330,"t":7.2},{"d":350,"t":7.3},{"d":370,"t":7.4},{"d":390,"t":7.3},
{"d":410,"t":7.1},{"d":430,"t":7.2},{"d":450,"t":7.6},{"d":470,"t":7.6},{"d":490,"t":7.3},{"d":510,"t":7.8},{"d":530,"t":7.5},{"d":550,"t":7.2},{"d":570,"t":7.3},{"d":590,"t":7.4},
{"d":610,"t":7.4},{"d":630,"t":7.2},{"d":650,"t":7.2},{"d":670,"t":7.3},{"d":690,"t":7.3},{"d":710,"t":7.2},{"d":730,"t":7.0},{"d":750,"t":7.2},{"d":770,"t":7.3},{"d":790,"t":7.2},
{"d":810,"t":7.1},{"d":830,"t":7.0},{"d":850,"t":6.9},{"d":870,"t":6.3},{"d":890,"t":6.6},{"d":910,"t":6.9},{"d":930,"t":6.5},{"d":950,"t":6.8},{"d":970,"t":6.9},{"d":990,"t":7.0},
{"d":1010,"t":7.1},{"d":1030,"t":7.0},{"d":1050,"t":7.8},{"d":1070,"t":7.6},{"d":1090,"t":7.0},{"d":1110,"t":7.1},{"d":1130,"t":6.5},{"d":1150,"t":6.7},{"d":1170,"t":7.1},{"d":1190,"t":7.2},
{"d":1210,"t":7.1},{"d":1230,"t":7.2},{"d":1250,"t":7.3},{"d":1270,"t":7.1},{"d":1290,"t":7.0},{"d":1310,"t":7.1},{"d":1330,"t":7.3},{"d":1350,"t":7.1},{"d":1370,"t":7.0},{"d":1390,"t":7.2},
{"d":1410,"t":7.2},{"d":1430,"t":7.1},{"d":1450,"t":7.1},{"d":1470,"t":7.3},{"d":1490,"t":7.3},{"d":1510,"t":7.2},{"d":1530,"t":7.1},{"d":1550,"t":7.0},{"d":1570,"t":7.0},{"d":1590,"t":7.0},
{"d":1610,"t":6.9},{"d":1630,"t":7.2},{"d":1650,"t":7.2},{"d":1670,"t":7.0},{"d":1690,"t":7.0},{"d":1710,"t":7.2},{"d":1730,"t":7.2},{"d":1750,"t":6.9},{"d":1770,"t":7.0},{"d":1790,"t":7.2},
{"d":1810,"t":7.2},{"d":1830,"t":7.1},{"d":1850,"t":7.0},{"d":1870,"t":7.0},{"d":1890,"t":7.1},{"d":1910,"t":7.3},{"d":1930,"t":7.3},{"d":1950,"t":7.1},{"d":1970,"t":7.0},{"d":1990,"t":7.1},
{"d":2010,"t":7.6},{"d":2030,"t":7.4},{"d":2050,"t":7.2},{"d":2070,"t":7.2},{"d":2090,"t":7.1},{"d":2110,"t":7.0},{"d":2130,"t":7.2},{"d":2150,"t":7.3},{"d":2170,"t":7.2},{"d":2190,"t":7.1},
{"d":2210,"t":7.2},{"d":2230,"t":7.2},{"d":2250,"t":7.1},{"d":2270,"t":7.0},{"d":2290,"t":7.2},{"d":2310,"t":7.3},{"d":2330,"t":6.8},{"d":2350,"t":6.9},{"d":2370,"t":7.1},{"d":2390,"t":7.2},
{"d":2410,"t":7.2},{"d":2430,"t":7.1},{"d":2450,"t":7.2},{"d":2470,"t":7.3},{"d":2490,"t":7.3},{"d":2510,"t":7.2},{"d":2530,"t":7.1},{"d":2550,"t":7.2},{"d":2570,"t":7.3},{"d":2590,"t":7.4},
{"d":2610,"t":7.4},{"d":2630,"t":7.3},{"d":2650,"t":7.3},{"d":2670,"t":7.2},{"d":2690,"t":7.8},{"d":2710,"t":7.3},{"d":2730,"t":7.0},{"d":2750,"t":7.2},{"d":2770,"t":7.3},{"d":2790,"t":7.3},
{"d":2810,"t":7.2},{"d":2830,"t":7.2},{"d":2850,"t":7.1},{"d":2870,"t":7.0},{"d":2890,"t":7.1},{"d":2910,"t":6.8},{"d":2930,"t":6.7},{"d":2950,"t":7.0},{"d":2970,"t":7.0},{"d":2990,"t":7.1},
{"d":3010,"t":7.1},{"d":3030,"t":7.0},{"d":3050,"t":7.0},{"d":3070,"t":7.0},{"d":3090,"t":7.2},{"d":3110,"t":7.2},{"d":3130,"t":7.0},{"d":3150,"t":6.9},{"d":3170,"t":7.0},{"d":3190,"t":7.6},
{"d":3210,"t":7.3},{"d":3230,"t":7.0},{"d":3250,"t":7.0},{"d":3270,"t":7.1},{"d":3290,"t":7.2},{"d":3310,"t":7.1},{"d":3330,"t":7.2},{"d":3350,"t":7.3},{"d":3370,"t":7.3},{"d":3390,"t":7.6},
{"d":3410,"t":7.6},{"d":3430,"t":7.3},{"d":3450,"t":7.3},{"d":3470,"t":7.4},{"d":3490,"t":7.5},{"d":3510,"t":7.3},{"d":3530,"t":7.8},{"d":3550,"t":7.6},{"d":3570,"t":7.4},{"d":3590,"t":7.4},
{"d":3610,"t":7.5},{"d":3630,"t":7.4},{"d":3650,"t":7.2},{"d":3670,"t":7.1},{"d":3690,"t":7.0},{"d":3710,"t":6.9},{"d":3730,"t":6.8},{"d":3750,"t":7.4},{"d":3770,"t":7.1},{"d":3790,"t":6.8},
{"d":3810,"t":6.8},{"d":3830,"t":6.7},{"d":3850,"t":6.6},{"d":3870,"t":6.7},{"d":3890,"t":6.8},{"d":3910,"t":7.0},{"d":3930,"t":7.0},{"d":3950,"t":6.9},{"d":3970,"t":6.8},{"d":3990,"t":7.0},
{"d":4010,"t":7.0},{"d":4030,"t":7.1},{"d":4050,"t":7.2},{"d":4070,"t":7.3},{"d":4090,"t":7.4},{"d":4110,"t":7.2},{"d":4130,"t":7.1},{"d":4150,"t":7.2},{"d":4170,"t":7.3},{"d":4190,"t":7.2},
{"d":4210,"t":7.3},{"d":4230,"t":7.4},{"d":4250,"t":8.0},{"d":4270,"t":7.7},{"d":4290,"t":7.5},{"d":4310,"t":7.4},{"d":4330,"t":7.3},{"d":4350,"t":7.3},{"d":4370,"t":7.3},{"d":4390,"t":7.2},
{"d":4410,"t":7.3},{"d":4430,"t":7.2},{"d":4450,"t":7.1},{"d":4470,"t":7.1},{"d":4490,"t":7.0},{"d":4510,"t":7.1},{"d":4530,"t":7.3},{"d":4550,"t":7.2},{"d":4570,"t":7.1},{"d":4590,"t":7.2},
{"d":4610,"t":7.2},{"d":4630,"t":7.1},{"d":4650,"t":7.0},{"d":4670,"t":7.1},{"d":4690,"t":7.3},{"d":4710,"t":7.2},{"d":4730,"t":7.1},{"d":4750,"t":7.3},{"d":4770,"t":7.3},{"d":4790,"t":7.2},
{"d":4810,"t":7.3},{"d":4830,"t":7.3},{"d":4850,"t":7.4},{"d":4870,"t":7.5},{"d":4890,"t":7.2},{"d":4910,"t":7.1},{"d":4930,"t":7.2},{"d":4950,"t":7.3},{"d":4970,"t":7.1},{"d":4990,"t":7.1},
{"d":5010,"t":7.3},{"d":5030,"t":7.4},{"d":5050,"t":7.2},{"d":5070,"t":7.1},{"d":5090,"t":7.1},{"d":5110,"t":7.2},{"d":5130,"t":7.4},{"d":5150,"t":7.3},{"d":5170,"t":7.1},{"d":5190,"t":7.1},
{"d":5210,"t":7.2},{"d":5230,"t":7.1}
    ],
    "c": [
{"d":899,"t":6.5},{"d":1757,"t":6.41},{"d":2673,"t":6.82},{"d":3561,"t":7.32},{"d":4501,"t":6.71}
    ]
  },
  "layer": [
    {
      "data": {"name": "b"},
      "mark": {"type": "line", "strokeWidth": 2.4, "clip": true},
      "encoding": {
        "x": {"field": "d", "type": "quantitative", "scale": {"domain": [0, 5242], "nice": false, "zero": false},
          "axis": {"values": [0,500,1000,1500,2000,2500,3000,3500,4000,4500,5000], "format": "d", "grid": false, "tickSize": 8, "labelPadding": 10, "title": "Distance (ft)", "titlePadding": 28, "labelFlush": false}},
        "y": {"field": "t", "type": "quantitative", "scale": {"domain": [4, 10], "nice": false, "zero": false},
          "axis": {"values": [4,5,6,7,8,9,10], "format": "d", "grid": true, "gridColor": "#c4c4c4", "gridWidth": 1, "tickSize": 5, "labelPadding": 5, "title": "Thickness (in)", "titlePadding": 26, "labelFlush": false}},
        "color": {"datum": "< 15 MPH", "type": "nominal",
          "scale": {"domain": ["< 15 MPH", "50MPH", "70MPH", "Core"], "range": ["#66A9F7", "#E1282F", "#0A640F", "#000000"]},
          "legend": {"title": null, "orient": "none", "direction": "horizontal", "legendX": 216, "legendY": 607,
            "labelFontSize": 21, "labelColor": "black", "labelOffset": 5, "columnPadding": 10, "symbolSize": 2116, "symbolStrokeWidth": 2,
            "encode": {"symbols": {"update": {
              "shape": {"signal": "datum.value === 'Core' ? 'M-1,0H1M-0.22,-0.22H0.22V0.22H-0.22Z' : 'M-1,0H1'"},
              "fill": {"signal": "datum.value === 'Core' ? 'black' : 'transparent'"},
              "fillOpacity": {"value": 1}
            }}}}}
      }
    },
    {
      "data": {"name": "r"},
      "mark": {"type": "line", "strokeWidth": 2.4, "clip": true},
      "encoding": {
        "x": {"field": "d", "type": "quantitative"},
        "y": {"field": "t", "type": "quantitative"},
        "color": {"datum": "50MPH", "type": "nominal"}
      }
    },
    {
      "data": {"name": "g"},
      "mark": {"type": "line", "strokeWidth": 2.6, "clip": true},
      "encoding": {
        "x": {"field": "d", "type": "quantitative"},
        "y": {"field": "t", "type": "quantitative"},
        "color": {"datum": "70MPH", "type": "nominal"}
      }
    },
    {
      "data": {"name": "c"},
      "mark": {"type": "rule", "color": "black", "strokeWidth": 2},
      "encoding": {
        "x": {"field": "d", "type": "quantitative"},
        "y": {"field": "t", "type": "quantitative"},
        "y2": {"datum": 4}
      }
    },
    {
      "data": {"name": "c"},
      "mark": {"type": "square", "color": "black", "filled": true, "opacity": 1, "size": 121},
      "encoding": {
        "x": {"field": "d", "type": "quantitative"},
        "y": {"field": "t", "type": "quantitative"}
      }
    }
  ]
}
